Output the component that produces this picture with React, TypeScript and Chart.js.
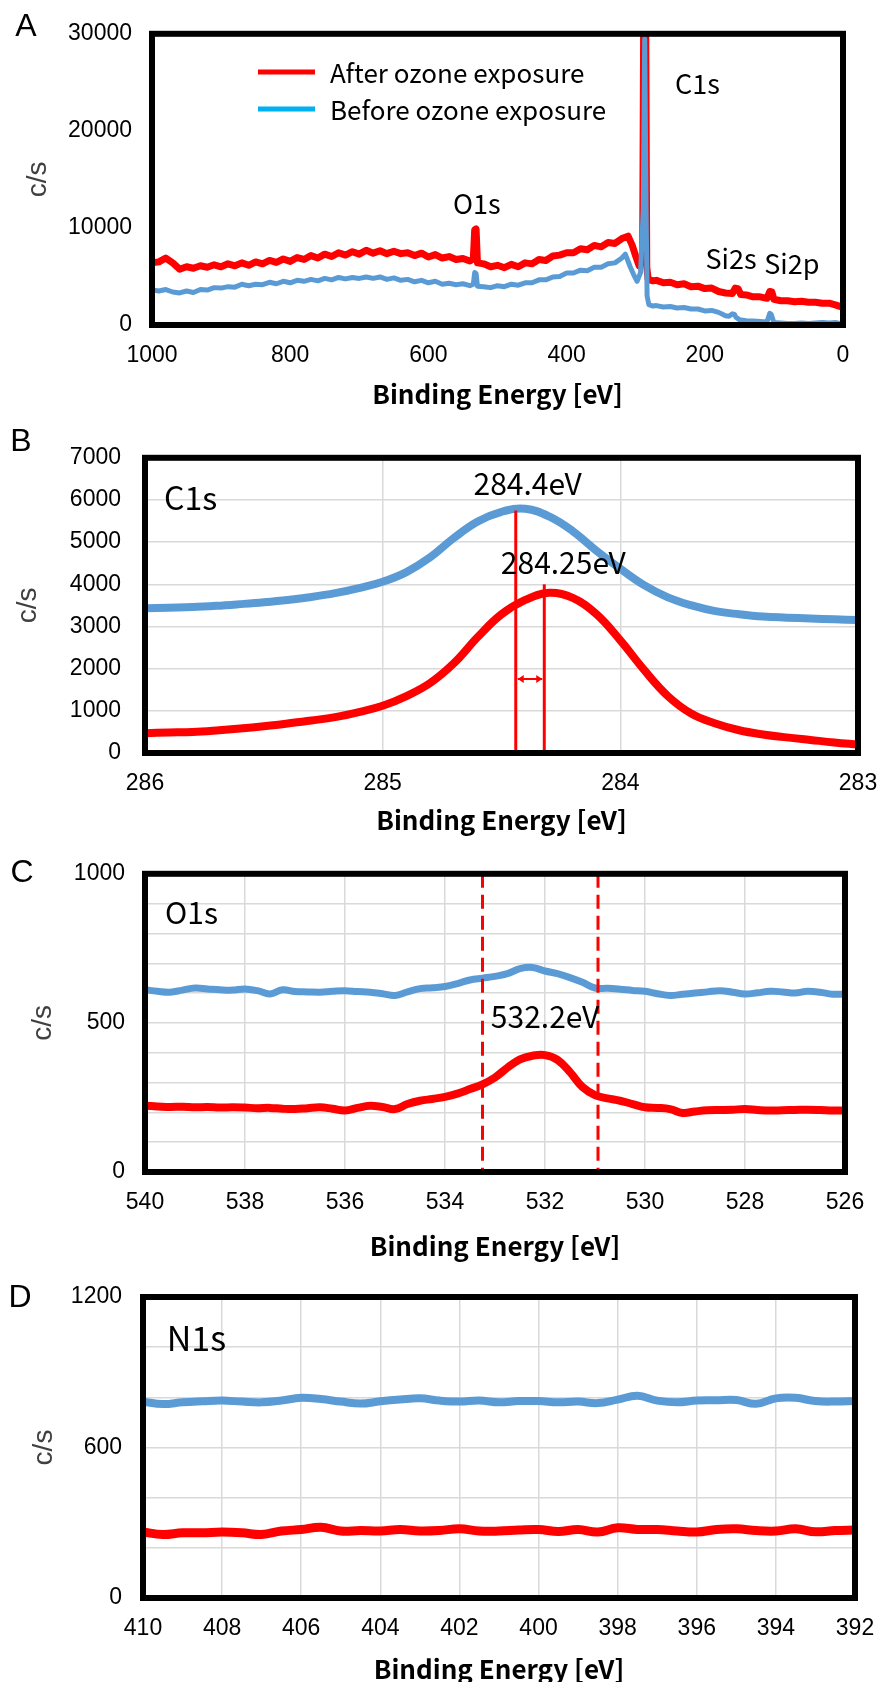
import React, { useEffect, useRef } from "react";
import { Chart, registerables } from "chart.js";

Chart.register(...registerables);

const RED = "#ff0000";
const BLUE = "#5b9bd5";
const LEGEND_BLUE = "#00b0f0";
const GRID = "#d9d9d9";
const TICK_FONT = '"Liberation Sans", Arial, sans-serif';
const LABEL_FONT = '"Noto Sans CJK JP", "Noto Sans", sans-serif';

// ---------- Panel A: survey spectrum [eV, c/s] ----------
const surveyAfter: [number, number][] = [
  [1000, 6400], [990, 6500], [980, 6900], [970, 6400], [960, 5750], [950, 6000], [940, 5850], [930, 6100],
  [920, 5950], [910, 6200], [900, 6000], [890, 6300], [880, 6100], [870, 6400], [860, 6150], [850, 6500],
  [840, 6300], [830, 6650], [820, 6450], [810, 6800], [800, 6550], [790, 6950], [780, 6750], [770, 7150],
  [760, 6900], [750, 7300], [740, 7050], [730, 7450], [720, 7200], [710, 7550], [700, 7300], [690, 7700],
  [680, 7400], [670, 7650], [660, 7350], [650, 7600], [640, 7350], [630, 7450], [620, 7150], [610, 7400],
  [600, 7000], [590, 7250], [580, 6900], [570, 7050], [560, 6750], [550, 6850], [540, 6600], [535, 6800],
  [533, 9800], [531, 9900], [529, 6400], [520, 6300], [510, 6000], [500, 6150], [490, 5900], [480, 6250],
  [470, 6000], [460, 6400], [450, 6300], [440, 6750], [430, 6650], [420, 7100], [410, 7200], [400, 7450],
  [390, 7450], [380, 7850], [370, 7750], [360, 8200], [350, 8050], [340, 8500], [330, 8400], [320, 8900],
  [311, 9150], [305, 8200], [300, 7100], [295, 6100], [290, 6800], [288.5, 31000], [285.5, 31000], [284, 6000],
  [282, 4700], [275, 4550], [270, 4600], [260, 4350], [250, 4400], [240, 4150], [230, 4250], [220, 3950],
  [210, 4000], [200, 3750], [190, 3800], [180, 3450], [170, 3300], [160, 3250], [156, 3800], [152, 3750],
  [148, 3150], [140, 3100], [130, 2900], [120, 2900], [110, 2750], [106, 3450], [103, 3400], [100, 2650],
  [90, 2500], [80, 2500], [70, 2400], [60, 2450], [50, 2350], [40, 2350], [30, 2250], [20, 2250],
  [10, 2050], [0, 1800],
];
const surveyBefore: [number, number][] = [
  [1000, 3600], [990, 3500], [980, 3650], [970, 3400], [960, 3300], [950, 3500], [940, 3350], [930, 3650],
  [920, 3600], [910, 3850], [900, 3800], [890, 3950], [880, 3900], [870, 4200], [860, 4050], [850, 4200],
  [840, 4150], [830, 4400], [820, 4250], [810, 4500], [800, 4350], [790, 4600], [780, 4500], [770, 4700],
  [760, 4550], [750, 4800], [740, 4650], [730, 4900], [720, 4750], [710, 4900], [700, 4800], [690, 4950],
  [680, 4800], [670, 4950], [660, 4700], [650, 4850], [640, 4600], [630, 4700], [620, 4450], [610, 4600],
  [600, 4350], [590, 4500], [580, 4200], [570, 4300], [560, 4150], [550, 4250], [540, 4050], [535, 4200],
  [533, 5400], [531, 5300], [529, 4000], [520, 3950], [510, 3850], [500, 4050], [490, 3950], [480, 4200],
  [470, 4100], [460, 4350], [450, 4350], [440, 4650], [430, 4650], [420, 4950], [410, 5000], [400, 5350],
  [390, 5350], [380, 5650], [370, 5600], [360, 5950], [350, 5950], [340, 6300], [330, 6400], [320, 6900],
  [315, 7300], [308, 6000], [303, 5200], [298, 4500], [293, 5400], [289, 12000], [287, 29500], [285, 12000],
  [283.5, 3000], [281, 2100], [275, 1950], [270, 2000], [260, 1850], [250, 1900], [240, 1750], [230, 1800],
  [220, 1650], [210, 1650], [200, 1450], [190, 1500], [180, 1300], [170, 950], [165, 900], [160, 1150],
  [157, 1100], [155, 800], [150, 550], [140, 450], [130, 400], [120, 350], [110, 300], [106, 1200],
  [104, 1100], [100, 250], [90, 200], [80, 150], [70, 150], [60, 200], [50, 150], [40, 200],
  [30, 250], [20, 200], [10, 250], [0, 100],
];
const A_X_TICKS = [0, 200, 400, 600, 800, 1000];
const A_Y_TICKS = [0, 10000, 20000, 30000];

// ---------- Panel B: C1s ----------
const c1sEnergy = [286.0, 285.9, 285.8, 285.7, 285.6, 285.5, 285.4, 285.3, 285.2, 285.1, 285.0, 284.9, 284.8, 284.7, 284.6, 284.5,
  284.4, 284.3, 284.2, 284.1, 284.0, 283.9, 283.8, 283.7, 283.6, 283.5, 283.4, 283.3, 283.2, 283.1, 283.0];
const c1sBefore = [3430, 3445, 3460, 3490, 3530, 3575, 3630, 3700, 3790, 3910, 4060, 4290, 4640, 5100, 5490, 5720,
  5790, 5610, 5260, 4795, 4370, 3980, 3690, 3500, 3365, 3290, 3235, 3210, 3190, 3170, 3155];
const c1sAfter = [470, 485, 500, 535, 580, 635, 700, 770, 850, 970, 1120, 1350, 1660, 2130, 2750, 3290,
  3630, 3800, 3680, 3290, 2670, 1970, 1350, 930, 700, 540, 440, 370, 310, 250, 200];
const B_X_TICKS = [283, 284, 285, 286];
const B_Y_TICKS = [0, 1000, 2000, 3000, 4000, 5000, 6000, 7000];

// ---------- Panel C: O1s ----------
const o1sEnergy = [540.0, 539.75, 539.5, 539.25, 539.0, 538.75, 538.5, 538.25, 538.0, 537.75, 537.5, 537.25, 537.0, 536.75, 536.5,
  536.25, 536.0, 535.75, 535.5, 535.25, 535.0, 534.75, 534.5, 534.25, 534.0, 533.75, 533.5, 533.25, 533.0, 532.75, 532.5,
  532.25, 532.0, 531.75, 531.5, 531.25, 531.0, 530.75, 530.5, 530.25, 530.0, 529.75, 529.5, 529.25, 529.0, 528.75, 528.5,
  528.25, 528.0, 527.75, 527.5, 527.25, 527.0, 526.75, 526.5, 526.25, 526.0];
const o1sBefore = [611, 606, 603, 610, 617, 614, 611, 610, 614, 608, 597, 611, 605, 604, 603,
  606, 608, 605, 603, 598, 592, 604, 615, 618, 622, 632, 644, 650, 656, 665, 682,
  686, 674, 665, 652, 636, 617, 616, 613, 609, 606, 598, 592, 596, 600, 604, 608,
  603, 597, 601, 606, 604, 600, 606, 603, 596, 597];
const o1sAfter = [222, 220, 218, 219, 217, 218, 216, 217, 216, 214, 215, 212, 211, 214, 217,
  212, 206, 215, 222, 218, 211, 228, 239, 245, 252, 263, 278, 294, 317, 350, 378,
  390, 392, 376, 335, 285, 258, 247, 239, 228, 217, 215, 211, 198, 203, 207, 208,
  209, 211, 208, 206, 207, 208, 209, 208, 206, 206];
const C_X_TICKS = [526, 528, 530, 532, 534, 536, 538, 540];
const C_Y_GRID = [0, 100, 200, 300, 400, 500, 600, 700, 800, 900, 1000];
const C_Y_LABELS = [0, 500, 1000];

// ---------- Panel D: N1s ----------
const n1sEnergy = [410.0, 409.5, 409.0, 408.5, 408.0, 407.5, 407.0, 406.5, 406.0, 405.5, 405.0, 404.5, 404.0, 403.5, 403.0, 402.5,
  402.0, 401.5, 401.0, 400.5, 400.0, 399.5, 399.0, 398.5, 398.0, 397.5, 397.0, 396.5, 396.0, 395.5, 395.0, 394.5,
  394.0, 393.5, 393.0, 392.5, 392.0];
const n1sBefore = [783, 773, 780, 784, 787, 783, 780, 787, 798, 793, 783, 775, 784, 791, 796, 787,
  783, 787, 780, 785, 785, 780, 783, 777, 791, 806, 787, 780, 787, 788, 789, 774,
  796, 798, 785, 783, 785];
const n1sAfter = [263, 253, 260, 260, 263, 260, 253, 267, 273, 282, 267, 269, 267, 273, 267, 269,
  276, 267, 267, 271, 273, 265, 273, 263, 280, 273, 273, 267, 263, 273, 276, 269,
  267, 276, 264, 269, 271];
const D_X_TICKS = [392, 394, 396, 398, 400, 402, 404, 406, 408, 410];
const D_Y_GRID = [0, 200, 400, 600, 800, 1000, 1200];
const D_Y_LABELS = [0, 600, 1200];

const zip = (xs: number[], ys: number[]) => xs.map((x, i) => ({ x, y: ys[i] }));
const pairs = (p: [number, number][]) => p.map(([x, y]) => ({ x, y }));

type Annot = (chart: any, ctx: CanvasRenderingContext2D) => void;

interface PanelSpec {
  top: number;
  height: number;
  area: { l: number; r: number; t: number; b: number };
  xMin: number; xMax: number; xTicks: number[];
  yMin: number; yMax: number; yTicks: number[]; yLabels: number[];
  grid: boolean;
  datasets: any[];
  yTitlePad: number;
  yTickPad: number;
  xTitleCenter: number;
  letter: string; letterX: number; letterY: number;
  annotate: Annot;
}

// order: lower value is drawn on top
const line = (data: any[], color: string, width: number, tension: number, order: number) => ({
  data,
  order,
  borderColor: color,
  backgroundColor: color,
  borderWidth: width,
  pointRadius: 0,
  tension,
  borderJoinStyle: "round",
  borderCapStyle: "round",
  fill: false,
});

const text = (ctx: CanvasRenderingContext2D, s: string, x: number, y: number, size: number, align: CanvasTextAlign) => {
  ctx.font = `${size}px ${LABEL_FONT}`;
  ctx.fillStyle = "#000";
  ctx.textAlign = align;
  ctx.textBaseline = "middle";
  ctx.fillText(s, x, y);
};

const vline = (ctx: CanvasRenderingContext2D, x: number, y0: number, y1: number, w: number, dash: number[]) => {
  ctx.save();
  ctx.strokeStyle = RED;
  ctx.lineWidth = w;
  ctx.setLineDash(dash);
  ctx.beginPath();
  ctx.moveTo(x, y0);
  ctx.lineTo(x, y1);
  ctx.stroke();
  ctx.restore();
};

const panels: PanelSpec[] = [
  {
    top: 0, height: 420,
    area: { l: 152, r: 843, t: 30, b: 325 },
    xMin: 0, xMax: 1000, xTicks: A_X_TICKS,
    yMin: 0, yMax: 30000, yTicks: A_Y_TICKS, yLabels: A_Y_TICKS,
    grid: false,
    datasets: [line(pairs(surveyAfter), RED, 7, 0, 1), line(pairs(surveyBefore), BLUE, 5, 0, 0)],
    yTitlePad: 21, yTickPad: 20, xTitleCenter: 394,
    letter: "A", letterX: 26, letterY: 27,
    annotate: (chart, ctx) => {
      const px = (v: number) => chart.scales.x.getPixelForValue(v);
      const py = (v: number) => chart.scales.y.getPixelForValue(v);
      text(ctx, "C1s", px(243), py(24900), 27, "left");
      text(ctx, "O1s", px(530), py(12500), 27, "center");
      text(ctx, "Si2s", px(162), py(6800), 27, "center");
      text(ctx, "Si2p", px(74), py(6300), 27, "center");
      // legend
      ctx.save();
      ctx.lineWidth = 5;
      ctx.strokeStyle = RED;
      ctx.beginPath(); ctx.moveTo(258, 72); ctx.lineTo(315, 72); ctx.stroke();
      ctx.strokeStyle = LEGEND_BLUE;
      ctx.beginPath(); ctx.moveTo(258, 109); ctx.lineTo(315, 109); ctx.stroke();
      ctx.restore();
      text(ctx, "After ozone exposure", 330, 73, 26, "left");
      text(ctx, "Before ozone exposure", 330, 110, 26, "left");
    },
  },
  {
    top: 420, height: 430,
    area: { l: 145, r: 858, t: 451, b: 753 },
    xMin: 283, xMax: 286, xTicks: B_X_TICKS,
    yMin: 0, yMax: 7000, yTicks: B_Y_TICKS, yLabels: B_Y_TICKS,
    grid: true,
    datasets: [line(zip(c1sEnergy, c1sAfter), RED, 8, 0.4, 1), line(zip(c1sEnergy, c1sBefore), BLUE, 8, 0.4, 0)],
    yTitlePad: 11, yTickPad: 24, xTitleCenter: 820,
    letter: "B", letterX: 21, letterY: 22,
    annotate: (chart, ctx) => {
      const px = (v: number) => chart.scales.x.getPixelForValue(v);
      const py = (v: number) => chart.scales.y.getPixelForValue(v);
      const x1 = px(284.44), x2 = px(284.32);
      vline(ctx, x1, py(0), py(5750), 3, []);
      vline(ctx, x2, py(0), py(4000), 3, []);
      const ya = py(1755);
      ctx.save();
      ctx.strokeStyle = RED; ctx.fillStyle = RED; ctx.lineWidth = 2;
      ctx.beginPath(); ctx.moveTo(x1 + 2, ya); ctx.lineTo(x2 - 2, ya); ctx.stroke();
      ctx.beginPath(); ctx.moveTo(x1 + 2, ya); ctx.lineTo(x1 + 8, ya - 4); ctx.lineTo(x1 + 8, ya + 4); ctx.closePath(); ctx.fill();
      ctx.beginPath(); ctx.moveTo(x2 - 2, ya); ctx.lineTo(x2 - 8, ya - 4); ctx.lineTo(x2 - 8, ya + 4); ctx.closePath(); ctx.fill();
      ctx.restore();
      text(ctx, "C1s", px(285.92), py(6050), 32, "left");
      text(ctx, "284.4eV", px(284.39), py(6380), 30, "center");
      text(ctx, "284.25eV", px(284.24), py(4520), 30, "center");
    },
  },
  {
    top: 840, height: 430,
    area: { l: 145, r: 845, t: 873, b: 1172 },
    xMin: 526, xMax: 540, xTicks: C_X_TICKS,
    yMin: 0, yMax: 1000, yTicks: C_Y_GRID, yLabels: C_Y_LABELS,
    grid: true,
    datasets: [line(zip(o1sEnergy, o1sAfter), RED, 8, 0.4, 1), line(zip(o1sEnergy, o1sBefore), BLUE, 7, 0.4, 0)],
    yTitlePad: 26, yTickPad: 20, xTitleCenter: 1246,
    letter: "C", letterX: 22, letterY: 33,
    annotate: (chart, ctx) => {
      const px = (v: number) => chart.scales.x.getPixelForValue(v);
      const py = (v: number) => chart.scales.y.getPixelForValue(v);
      vline(ctx, px(533.25), py(1000), py(0), 3, [14, 7]);
      vline(ctx, px(530.94), py(1000), py(0), 3, [14, 7]);
      text(ctx, "O1s", px(539.6), py(870), 30, "left");
      text(ctx, "532.2eV", px(532.0), py(522), 30, "center");
    },
  },
  {
    top: 1260, height: 440,
    area: { l: 143, r: 855, t: 1297, b: 1598 },
    xMin: 392, xMax: 410, xTicks: D_X_TICKS,
    yMin: 0, yMax: 1200, yTicks: D_Y_GRID, yLabels: D_Y_LABELS,
    grid: true,
    datasets: [line(zip(n1sEnergy, n1sAfter), RED, 9, 0.4, 1), line(zip(n1sEnergy, n1sBefore), BLUE, 8, 0.4, 0)],
    yTitlePad: 27, yTickPad: 21, xTitleCenter: 1669,
    letter: "D", letterX: 20, letterY: 38,
    annotate: (chart, ctx) => {
      const px = (v: number) => chart.scales.x.getPixelForValue(v);
      const py = (v: number) => chart.scales.y.getPixelForValue(v);
      text(ctx, "N1s", px(409.4), py(1037), 34, "left");
    },
  },
];

function buildConfig(p: PanelSpec): any {
  const xTitleSize = 26;
  const lh = xTitleSize * 1.2;
  const padBottom = p.height - (p.xTitleCenter - p.top) - lh / 2;
  const decor = {
    id: "decor" + p.letter,
    afterDatasetsDraw(chart: any) {
      const { ctx, chartArea: a } = chart;
      ctx.save();
      p.annotate(chart, ctx);
      ctx.lineWidth = 6;
      ctx.strokeStyle = "#000";
      ctx.lineJoin = "miter";
      ctx.strokeRect(a.left, a.top, a.right - a.left, a.bottom - a.top);
      ctx.font = `32px ${TICK_FONT}`;
      ctx.fillStyle = "#000";
      ctx.textAlign = "center";
      ctx.textBaseline = "middle";
      ctx.fillText(p.letter, p.letterX, p.letterY);
      ctx.restore();
    },
  };
  return {
    type: "line",
    data: { datasets: p.datasets },
    options: {
      responsive: false,
      animation: false,
      events: [],
      layout: { padding: { left: 0, top: p.area.t - p.top, right: 881 - p.area.r, bottom: 0 } },
      plugins: { legend: { display: false }, tooltip: { enabled: false } },
      scales: {
        x: {
          type: "linear",
          position: "bottom",
          reverse: true,
          min: p.xMin,
          max: p.xMax,
          afterFit: (s: any) => { s.height = p.height - (p.area.b - p.top); },
          afterBuildTicks: (s: any) => { s.ticks = p.xTicks.map((v) => ({ value: v })); },
          ticks: {
            color: "#000",
            font: { family: TICK_FONT, size: 23 },
            padding: 17,
            maxRotation: 0,
            autoSkip: false,
            callback: (v: any) => String(v),
          },
          grid: { display: p.grid, color: GRID, lineWidth: 1.5, drawTicks: false },
          border: { display: false },
          title: {
            display: true,
            text: "Binding Energy [eV]",
            color: "#000",
            font: { family: LABEL_FONT, size: xTitleSize, weight: "bold" },
            padding: { top: 0, bottom: padBottom },
          },
        },
        y: {
          type: "linear",
          position: "left",
          min: p.yMin,
          max: p.yMax,
          afterFit: (s: any) => { s.width = p.area.l; },
          afterBuildTicks: (s: any) => { s.ticks = p.yTicks.map((v) => ({ value: v })); },
          ticks: {
            color: "#000",
            font: { family: TICK_FONT, size: 23 },
            padding: p.yTickPad,
            autoSkip: false,
            callback: (v: any) => (p.yLabels.includes(v) ? String(v) : ""),
          },
          grid: { display: p.grid, color: GRID, lineWidth: 1.5, drawTicks: false },
          border: { display: false },
          title: {
            display: true,
            text: "c/s",
            color: "#404040",
            font: { family: TICK_FONT, size: 28 },
            padding: { top: p.yTitlePad, bottom: 0 },
          },
        },
      },
    },
    plugins: [decor],
  };
}

function Panel({ spec }: { spec: PanelSpec }) {
  const ref = useRef<HTMLCanvasElement | null>(null);
  useEffect(() => {
    if (!ref.current) return;
    const chart = new Chart(ref.current, buildConfig(spec));
    return () => chart.destroy();
  }, [spec]);
  return (
    <canvas
      ref={ref}
      width={881}
      height={spec.height}
      style={{ position: "absolute", left: 0, top: spec.top, width: 881, height: spec.height }}
    />
  );
}

export default function App() {
  return (
    <div
      style={{
        position: "absolute",
        left: 0,
        top: 0,
        width: 881,
        height: 1682,
        overflow: "hidden",
        background: "#fff",
      }}
    >
      {panels.map((p) => (
        <Panel key={p.letter} spec={p} />
      ))}
    </div>
  );
}
